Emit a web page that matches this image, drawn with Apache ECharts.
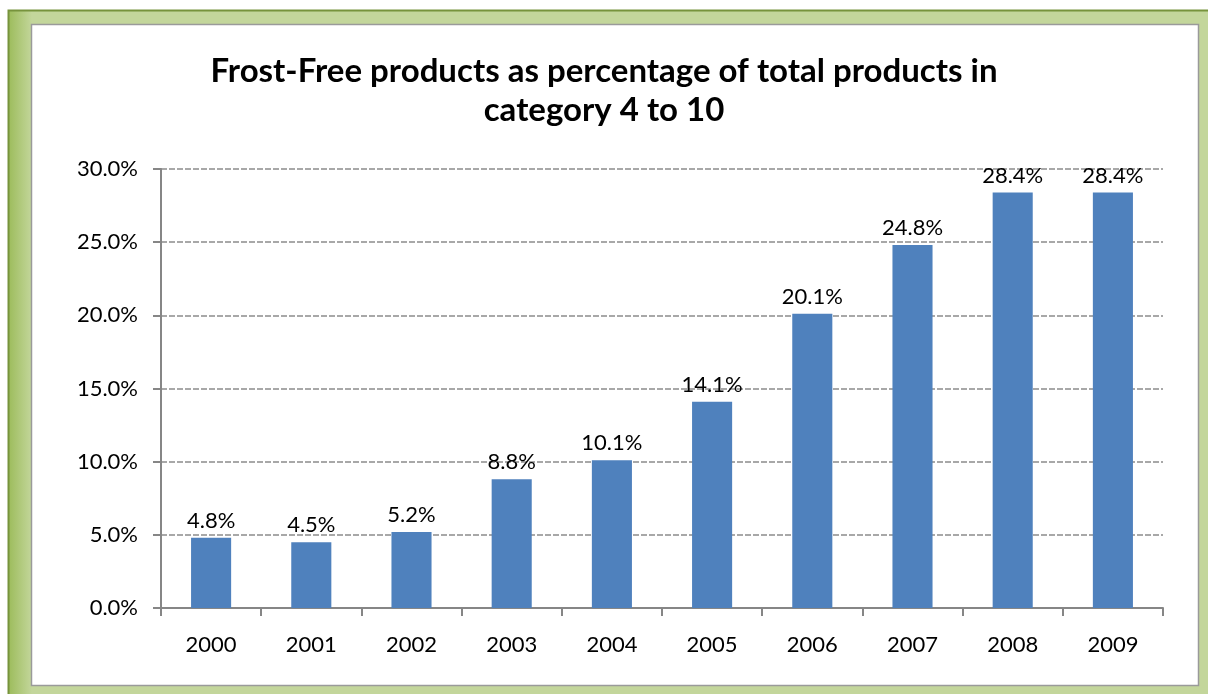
<!DOCTYPE html>
<html>
<head>
<meta charset="utf-8">
<script src="https://cdn.jsdelivr.net/npm/echarts@6/dist/echarts.min.js"></script>
<style>
  html, body { margin: 0; padding: 0; background: #fff; }
  #main { width: 1208px; height: 694px; }
</style>
</head>
<body>
<div id="main"></div>
<script>
// data
var years = ['2000', '2001', '2002', '2003', '2004', '2005', '2006', '2007', '2008', '2009'];
var shares = [4.8, 4.5, 5.2, 8.8, 10.1, 14.1, 20.1, 24.8, 28.4, 28.4];
var yTicks = [0, 5, 10, 15, 20, 25, 30];

var chart = echarts.init(document.getElementById('main'), null, { renderer: 'canvas' });
var fontFam = 'Lato, "Open Sans", sans-serif';

chart.setOption({
  animation: false,
  backgroundColor: '#fff',
  graphic: [
    // green frame (goes past right/bottom edge like in the screenshot)
    {
      type: 'rect', z: -10, silent: true,
      shape: { x: 8.5, y: 10.5, width: 1220, height: 700 },
      style: {
        fill: new echarts.graphic.LinearGradient(0, 0, 1, 0, [
          { offset: 0, color: '#9bbb59' },
          { offset: 0.02, color: '#c3d69b' },
          { offset: 1, color: '#c3d69b' }
        ]),
        stroke: '#77933c', lineWidth: 2
      }
    },
    // white chart box
    {
      type: 'rect', z: -9, silent: true,
      shape: { x: 31.5, y: 24.5, width: 1167, height: 661 },
      style: { fill: '#fff', stroke: '#9a9a9a', lineWidth: 1.5 }
    }
  ],
  title: {
    text: 'Frost-Free products as percentage of total products in\ncategory 4 to 10',
    left: 'center',
    top: 47,
    textStyle: {
      fontFamily: fontFam,
      fontWeight: 'bold',
      fontSize: 33,
      lineHeight: 39,
      color: '#000'
    }
  },
  grid: { left: 161, right: 45, top: 169, bottom: 86, containLabel: false },
  xAxis: {
    type: 'category',
    data: years,
    boundaryGap: true,
    axisLine: { lineStyle: { color: '#868686', width: 2 } },
    axisTick: { show: true, length: 8, inside: false, lineStyle: { color: '#868686', width: 2 } },
    axisLabel: { fontFamily: fontFam, fontSize: 22, color: '#000', margin: 26 }
  },
  yAxis: {
    type: 'value',
    min: 0,
    max: 30,
    interval: 5,
    axisLine: { show: true, lineStyle: { color: '#868686', width: 2 } },
    axisTick: { show: true, length: 8, lineStyle: { color: '#868686', width: 2 } },
    axisLabel: {
      fontFamily: fontFam, fontSize: 22, color: '#000', margin: 23,
      formatter: function (v) { return yTicks.indexOf(v) >= 0 ? v.toFixed(1) + '%' : ''; }
    },
    splitLine: { show: true, lineStyle: { color: '#8c8c8c', width: 1.5, type: [6, 2] } }
  },
  series: [{
    type: 'bar',
    data: shares,
    barWidth: '40%',
    itemStyle: { color: '#4f81bd' },
    label: {
      show: true,
      position: 'top',
      distance: 6,
      fontFamily: fontFam,
      fontSize: 22,
      color: '#000',
      formatter: function (p) { return p.value.toFixed(1) + '%'; }
    }
  }]
});
</script>
</body>
</html>
